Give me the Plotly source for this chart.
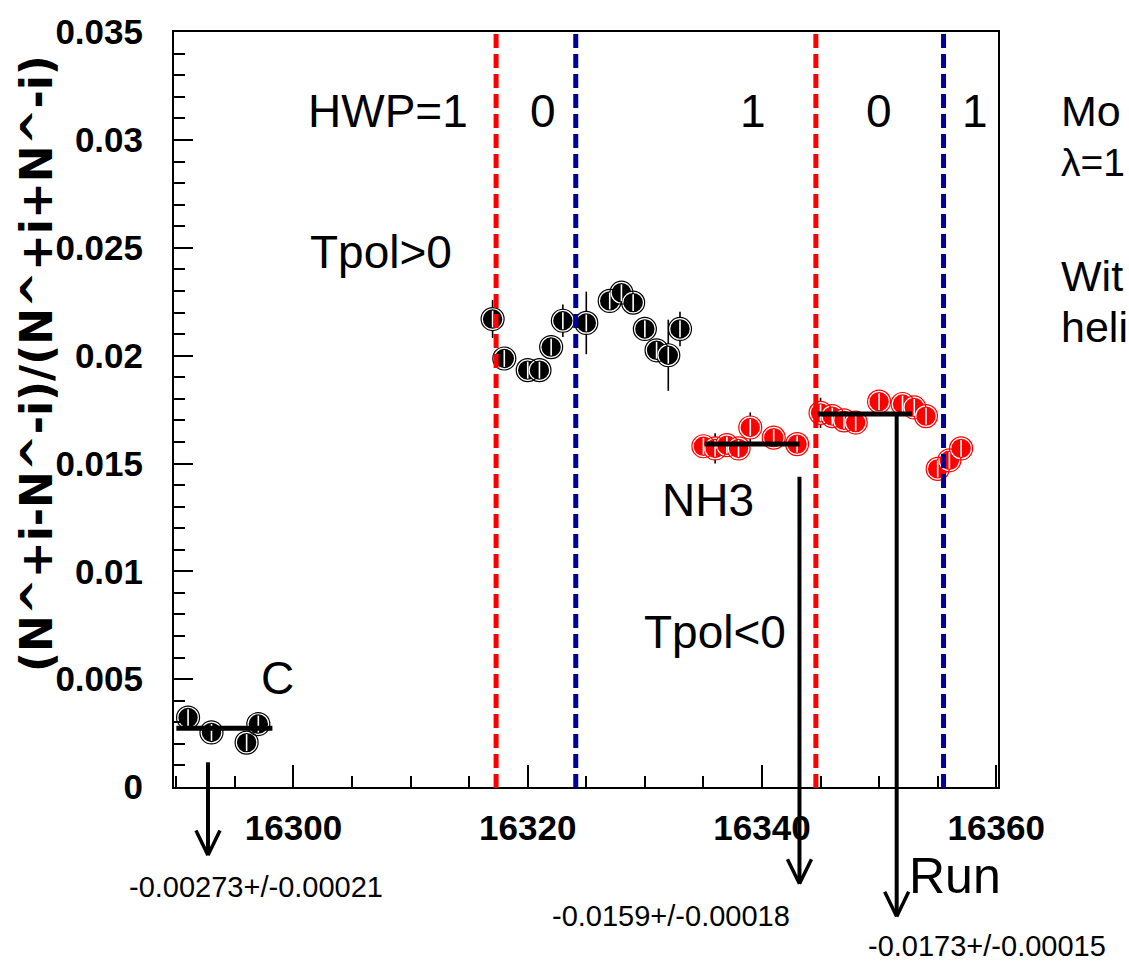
import plotly.graph_objects as go

# ---- data: beam-helicity asymmetry per run ----
# carbon target runs
c_runs = [16291, 16293, 16296, 16297]
c_asym = [0.00322, 0.00253, 0.00206, 0.00292]
c_err = [0.00030, 0.00030, 0.00035, 0.00030]

# NH3, target polarisation > 0
pos_runs = [16317, 16318, 16320, 16321, 16322, 16323, 16325,
            16327, 16328, 16329, 16330, 16331, 16332, 16333]
pos_asym = [0.02170, 0.01987, 0.01933, 0.01933, 0.02040, 0.02162, 0.02152,
            0.02254, 0.02292, 0.02246, 0.02124, 0.02025, 0.02002, 0.02124]
pos_err = [0.00088, 0.00040, 0.00040, 0.00040, 0.00040, 0.00075, 0.00145,
           0.00040, 0.00050, 0.00040, 0.00040, 0.00040, 0.00165, 0.00080]

# NH3, target polarisation < 0
neg_runs = [16335, 16336, 16337, 16338, 16339, 16341, 16343,
            16345, 16346, 16347, 16348, 16350, 16352, 16353, 16354,
            16355, 16356, 16357]
neg_asym = [0.01580, 0.01570, 0.01585, 0.01570, 0.01667, 0.01620, 0.01590,
            0.01735, 0.01720, 0.01700, 0.01690, 0.01787, 0.01776, 0.01760, 0.01720,
            0.01475, 0.01515, 0.01570]
neg_err = [0.00040, 0.00070, 0.00040, 0.00040, 0.00070, 0.00040, 0.00040,
           0.00070, 0.00040, 0.00040, 0.00040, 0.00040, 0.00040, 0.00040, 0.00040,
           0.00040, 0.00040, 0.00040]

# constant fits: value and run range
fit_values = [0.00273, 0.0159, 0.0173]
fit_starts = [16290.0, 16335.1, 16344.7]
fit_ends = [16298.2, 16343.2, 16352.8]
fit_labels = ["-0.00273+/-0.00021", "-0.0159+/-0.00018", "-0.0173+/-0.00015"]

# half-wave-plate change boundaries
hwp_runs = [16317.3, 16324.1, 16344.6, 16355.5]
hwp_colors = ["#ff0000", "#000099", "#ff0000", "#000099"]
hwp_states = ["HWP=1", "0", "1", "0", "1"]
hwp_label_runs = [16308.1, 16321.3, 16339.2, 16350.0, 16358.2]

X_RANGE = [16289.8, 16360.15]
Y_RANGE = [0.0, 0.03501]

W, H = 1129, 966
PL, PR, PT, PB = 174, 998, 23, 787

FONT = "Liberation Sans, Arial, Helvetica, sans-serif"


def py(p):
    """pixel row -> paper y"""
    return (PB - p) / (PB - PT)


def px(p):
    """pixel column -> paper x"""
    return (p - PL) / (PR - PL)


fig = go.Figure()


def add_points(x, y, e, color):
    fig.add_trace(go.Scatter(
        x=x, y=y, mode="markers", showlegend=False, hoverinfo="skip",
        error_y=dict(type="data", array=e, color="black", thickness=1.6, width=0),
        marker=dict(symbol="circle", size=21, color=color,
                    line=dict(color="white", width=1.6))))
    fig.add_trace(go.Scatter(
        x=x, y=y, mode="markers", showlegend=False, hoverinfo="skip",
        marker=dict(symbol="circle-open", size=23, color=color,
                    line=dict(color=color, width=1.2))))
    fig.add_trace(go.Scatter(
        x=x, y=y, mode="markers", showlegend=False, hoverinfo="skip",
        marker=dict(symbol="line-ns-open", size=12, color="white",
                    line=dict(color="white", width=1.6))))


add_points(c_runs, c_asym, c_err, "black")
add_points(pos_runs, pos_asym, pos_err, "black")
add_points(neg_runs, neg_asym, neg_err, "#ff0000")

# fit lines drawn over the points
for v, a, b in zip(fit_values, fit_starts, fit_ends):
    fig.add_trace(go.Scatter(x=[a, b], y=[v, v], mode="lines", showlegend=False,
                             hoverinfo="skip", line=dict(color="black", width=5)))

shapes = []
# dashed HWP boundaries, running slightly past the bottom axis
for r, col in zip(hwp_runs, hwp_colors):
    shapes.append(dict(type="line", xref="x", yref="paper", x0=r, x1=r,
                       y0=py(25), y1=py(794), layer="above",
                       line=dict(color=col, width=5, dash="14px,6px")))

# arrows pointing to the fitted values
arrow_runs = [16292.7, 16343.2, 16351.5]
arrow_tops = [762, 473, 410]
arrow_tips = [856, 885, 918]
for r, t0, t1 in zip(arrow_runs, arrow_tops, arrow_tips):
    shapes.append(dict(type="line", xref="x", yref="paper", x0=r, x1=r,
                       y0=py(t0), y1=py(t1 - 1), layer="above",
                       line=dict(color="black", width=4)))
    for side in (-12, 12):
        shapes.append(dict(type="line", xref="x", yref="paper", xsizemode="pixel",
                           xanchor=r, x0=side, x1=0, y0=py(t1 - 25), y1=py(t1),
                           layer="above", line=dict(color="black", width=3.5)))

ann = []
big = dict(family=FONT, size=46, color="black")
for s, r in zip(hwp_states, hwp_label_runs):
    ann.append(dict(x=r, y=0.03133, xref="x", yref="y", text=s, showarrow=False,
                    font=big, xanchor="center", yanchor="middle"))
for s, r, v in [("Tpol>0", 16307.5, 0.02483), ("NH3", 16335.4, 0.01329),
                ("Tpol<0", 16336.0, 0.00719), ("C", 16298.6, 0.00504)]:
    ann.append(dict(x=r, y=v, xref="x", yref="y", text=s, showarrow=False,
                    font=big, xanchor="center", yanchor="middle"))

# side notes at the right-hand margin
for s, yy, fs in [("Mo", 103, 43), ("\u03bb=1", 155, 39), ("Wit", 270, 43), ("heli", 322, 43)]:
    ann.append(dict(x=px(1059), y=py(yy), xref="paper", yref="paper", text=s,
                    showarrow=False, xanchor="left", yanchor="middle",
                    font=dict(family=FONT, size=fs, color="black")))

# fitted values under the arrows
for s, lx, cy in zip(fit_labels, [127, 550, 866], [888, 918, 948]):
    ann.append(dict(x=px(lx), y=py(cy), xref="paper", yref="paper", text=s,
                    showarrow=False, xanchor="left", yanchor="middle",
                    font=dict(family=FONT, size=29, color="black")))

ann.append(dict(x=px(955), y=py(877), xref="paper", yref="paper", text="Run",
                showarrow=False, xanchor="center", yanchor="middle",
                font=dict(family=FONT, size=50, color="black")))

ann.append(dict(x=px(36), y=py(359), xref="paper", yref="paper",
                text="<b>(N^+i-N^-i)/(N^+i+N^-i)</b>", textangle=-90,
                showarrow=False, xanchor="center", yanchor="middle",
                font=dict(family="DejaVu Sans, sans-serif", size=44, color="black")))

tickfont = dict(family=FONT, size=35, color="black", weight="bold")

fig.update_layout(
    width=W, height=H, autosize=False,
    margin=dict(l=PL, r=W - PR, t=PT, b=H - PB),
    paper_bgcolor="white", plot_bgcolor="white",
    shapes=shapes, annotations=ann, showlegend=False,
    font=dict(family=FONT, color="black"),
)
fig.update_xaxes(range=X_RANGE, showgrid=False, zeroline=False,
                 showline=True, linecolor="black", linewidth=2, mirror=True,
                 ticks="inside", ticklen=22, tickwidth=2, tickcolor="black",
                 dtick=20, tick0=16300, tickformat="d",
                 minor=dict(ticks="inside", ticklen=11, tickwidth=2, dtick=5,
                            tickcolor="black", showgrid=False),
                 tickfont=tickfont, ticklabelstandoff=9)
fig.update_yaxes(range=Y_RANGE, showgrid=False, zeroline=False,
                 showline=True, linecolor="black", linewidth=2, mirror=True,
                 ticks="inside", ticklen=19, tickwidth=2, tickcolor="black",
                 dtick=0.005, tick0=0,
                 minor=dict(ticks="inside", ticklen=11, tickwidth=2, dtick=0.001,
                            tickcolor="black", showgrid=False),
                 tickfont=tickfont, ticklabelstandoff=22)

fig.write_html("out.html")
